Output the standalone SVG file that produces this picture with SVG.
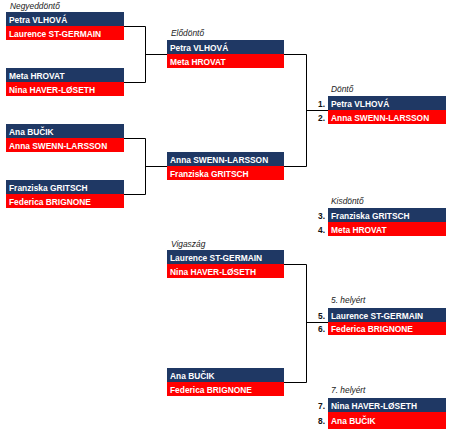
<svg xmlns="http://www.w3.org/2000/svg" width="468" height="437" viewBox="0 0 468 437">
<style>
.d{fill:#1F3864}
.r{fill:#FF0000}
.n{font-family:"Liberation Sans",Arial,sans-serif;font-weight:bold;font-size:8.4px;fill:#fff}
.h{font-family:"Liberation Sans",Arial,sans-serif;font-style:italic;font-size:8.4px;fill:#222}
.s{font-family:"Liberation Sans",Arial,sans-serif;font-weight:bold;font-size:8.4px;fill:#111;text-anchor:end}
.c{stroke:#000;stroke-width:1;fill:none}
</style>
<rect width="468" height="437" fill="#fff"/>
<g id="headings">
<text class="h" x="10" y="9">Negyeddöntő</text>
<text class="h" x="171" y="36">Elődöntő</text>
<text class="h" x="331" y="92">Döntő</text>
<text class="h" x="331" y="204">Kisdöntő</text>
<text class="h" x="171" y="247">Vigaszág</text>
<text class="h" x="331" y="303">5. helyért</text>
<text class="h" x="331" y="393">7. helyért</text>
</g>
<g id="connectors">
<path class="c" d="M124 26.5H145.5V82.5H124M145.5 54.5H167"/>
<path class="c" d="M124 138.5H145.5V194.5H124M145.5 166.5H167"/>
<path class="c" d="M284 54.5H306.5V166.5H284M306.5 110.5H328"/>
<path class="c" d="M284 264.5H306.5V382.5H284M306.5 322.5H328"/>
</g>
<g id="qf1">
<rect class="d" x="6" y="12" width="118" height="14"/><rect class="r" x="6" y="26" width="118" height="14"/>
<text class="n" x="9" y="22.5">Petra VLHOVÁ</text><text class="n" x="9" y="36.5">Laurence ST-GERMAIN</text>
</g>
<g id="qf2">
<rect class="d" x="6" y="68" width="118" height="14"/><rect class="r" x="6" y="82" width="118" height="14"/>
<text class="n" x="9" y="78.5">Meta HROVAT</text><text class="n" x="9" y="92.5">Nina HAVER-LØSETH</text>
</g>
<g id="qf3">
<rect class="d" x="6" y="124" width="118" height="14"/><rect class="r" x="6" y="138" width="118" height="14"/>
<text class="n" x="9" y="134.5">Ana BUČIK</text><text class="n" x="9" y="148.5">Anna SWENN-LARSSON</text>
</g>
<g id="qf4">
<rect class="d" x="6" y="180" width="118" height="14"/><rect class="r" x="6" y="194" width="118" height="14"/>
<text class="n" x="9" y="190.5">Franziska GRITSCH</text><text class="n" x="9" y="204.5">Federica BRIGNONE</text>
</g>
<g id="sf1">
<rect class="d" x="167" y="40" width="117" height="14"/><rect class="r" x="167" y="54" width="117" height="14"/>
<text class="n" x="170" y="50.5">Petra VLHOVÁ</text><text class="n" x="170" y="64.5">Meta HROVAT</text>
</g>
<g id="sf2">
<rect class="d" x="167" y="152" width="117" height="14"/><rect class="r" x="167" y="166" width="117" height="14"/>
<text class="n" x="170" y="162.5">Anna SWENN-LARSSON</text><text class="n" x="170" y="176.5">Franziska GRITSCH</text>
</g>
<g id="final">
<rect class="d" x="328" y="96" width="118" height="14"/><rect class="r" x="328" y="110" width="118" height="14"/>
<text class="n" x="331" y="106.5">Petra VLHOVÁ</text><text class="n" x="331" y="120.5">Anna SWENN-LARSSON</text>
<text class="s" x="325" y="106.5">1.</text><text class="s" x="325" y="120.5">2.</text>
</g>
<g id="bronze">
<rect class="d" x="328" y="208" width="118" height="14"/><rect class="r" x="328" y="222" width="118" height="14"/>
<text class="n" x="331" y="218.5">Franziska GRITSCH</text><text class="n" x="331" y="232.5">Meta HROVAT</text>
<text class="s" x="325" y="218.5">3.</text><text class="s" x="325" y="232.5">4.</text>
</g>
<g id="cons1">
<rect class="d" x="167" y="250" width="117" height="14"/><rect class="r" x="167" y="264" width="117" height="14"/>
<text class="n" x="170" y="260.5">Laurence ST-GERMAIN</text><text class="n" x="170" y="274.5">Nina HAVER-LØSETH</text>
</g>
<g id="cons2">
<rect class="d" x="167" y="368" width="117" height="14"/><rect class="r" x="167" y="382" width="117" height="14"/>
<text class="n" x="170" y="378.5">Ana BUČIK</text><text class="n" x="170" y="392.5">Federica BRIGNONE</text>
</g>
<g id="fifth">
<rect class="d" x="328" y="308" width="118" height="14"/><rect class="r" x="328" y="322" width="118" height="13"/>
<text class="n" x="331" y="318.5">Laurence ST-GERMAIN</text><text class="n" x="331" y="332">Federica BRIGNONE</text>
<text class="s" x="325" y="318.5">5.</text><text class="s" x="325" y="332">6.</text>
</g>
<g id="seventh">
<rect class="d" x="328" y="398" width="118" height="14"/><rect class="r" x="328" y="412" width="118" height="17"/>
<text class="n" x="331" y="408.5">Nina HAVER-LØSETH</text><text class="n" x="331" y="424">Ana BUČIK</text>
<text class="s" x="325" y="408.5">7.</text><text class="s" x="325" y="424">8.</text>
</g>
</svg>
